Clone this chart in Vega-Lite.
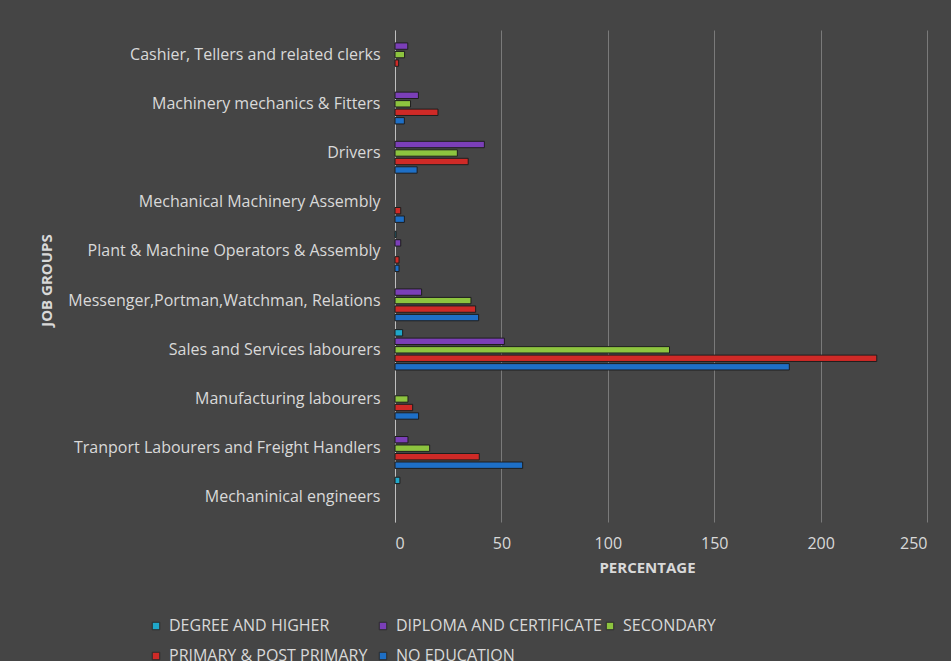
{
  "$schema": "https://vega.github.io/schema/vega-lite/v6.json",
  "width": 532,
  "height": 492,
  "autosize": {"type": "none"},
  "padding": {"left": 395, "top": 30, "right": 24, "bottom": 139},
  "background": "#454545",
  "config": {"view": {"stroke": null}, "font": "Open Sans"},
  "data": {
    "values": [
      {"group": "Cashier, Tellers and related clerks", "level": "DIPLOMA AND CERTIFICATE", "value": 6.0},
      {"group": "Cashier, Tellers and related clerks", "level": "SECONDARY", "value": 4.5},
      {"group": "Cashier, Tellers and related clerks", "level": "PRIMARY & POST PRIMARY", "value": 1.7},
      {"group": "Machinery mechanics & Fitters", "level": "DIPLOMA AND CERTIFICATE", "value": 11.0},
      {"group": "Machinery mechanics & Fitters", "level": "SECONDARY", "value": 7.3},
      {"group": "Machinery mechanics & Fitters", "level": "PRIMARY & POST PRIMARY", "value": 20.2},
      {"group": "Machinery mechanics & Fitters", "level": "NO EDUCATION", "value": 4.4},
      {"group": "Drivers", "level": "DIPLOMA AND CERTIFICATE", "value": 42.0},
      {"group": "Drivers", "level": "SECONDARY", "value": 29.3},
      {"group": "Drivers", "level": "PRIMARY & POST PRIMARY", "value": 34.4},
      {"group": "Drivers", "level": "NO EDUCATION", "value": 10.4},
      {"group": "Mechanical Machinery Assembly", "level": "PRIMARY & POST PRIMARY", "value": 2.7},
      {"group": "Mechanical Machinery Assembly", "level": "NO EDUCATION", "value": 4.4},
      {"group": "Plant & Machine Operators & Assembly", "level": "DEGREE AND HIGHER", "value": 0.5},
      {"group": "Plant & Machine Operators & Assembly", "level": "DIPLOMA AND CERTIFICATE", "value": 2.7},
      {"group": "Plant & Machine Operators & Assembly", "level": "PRIMARY & POST PRIMARY", "value": 1.9},
      {"group": "Plant & Machine Operators & Assembly", "level": "NO EDUCATION", "value": 1.9},
      {"group": "Messenger,Portman,Watchman, Relations", "level": "DIPLOMA AND CERTIFICATE", "value": 12.5},
      {"group": "Messenger,Portman,Watchman, Relations", "level": "SECONDARY", "value": 35.7},
      {"group": "Messenger,Portman,Watchman, Relations", "level": "PRIMARY & POST PRIMARY", "value": 37.9},
      {"group": "Messenger,Portman,Watchman, Relations", "level": "NO EDUCATION", "value": 39.3},
      {"group": "Sales and Services labourers", "level": "DEGREE AND HIGHER", "value": 3.6},
      {"group": "Sales and Services labourers", "level": "DIPLOMA AND CERTIFICATE", "value": 51.4},
      {"group": "Sales and Services labourers", "level": "SECONDARY", "value": 129.0},
      {"group": "Sales and Services labourers", "level": "PRIMARY & POST PRIMARY", "value": 226.4},
      {"group": "Sales and Services labourers", "level": "NO EDUCATION", "value": 185.3},
      {"group": "Manufacturing labourers", "level": "SECONDARY", "value": 6.1},
      {"group": "Manufacturing labourers", "level": "PRIMARY & POST PRIMARY", "value": 8.3},
      {"group": "Manufacturing labourers", "level": "NO EDUCATION", "value": 11.1},
      {"group": "Tranport Labourers and Freight Handlers", "level": "DIPLOMA AND CERTIFICATE", "value": 6.1},
      {"group": "Tranport Labourers and Freight Handlers", "level": "SECONDARY", "value": 16.3},
      {"group": "Tranport Labourers and Freight Handlers", "level": "PRIMARY & POST PRIMARY", "value": 39.6},
      {"group": "Tranport Labourers and Freight Handlers", "level": "NO EDUCATION", "value": 60.0},
      {"group": "Mechaninical engineers", "level": "DEGREE AND HIGHER", "value": 2.3}
    ]
  },
  "mark": {"type": "bar", "stroke": "#1e1e1e", "strokeWidth": 1},
  "encoding": {
    "y": {
      "field": "group",
      "type": "nominal",
      "sort": [
        "Cashier, Tellers and related clerks",
        "Machinery mechanics & Fitters",
        "Drivers",
        "Mechanical Machinery Assembly",
        "Plant & Machine Operators & Assembly",
        "Messenger,Portman,Watchman, Relations",
        "Sales and Services labourers",
        "Manufacturing labourers",
        "Tranport Labourers and Freight Handlers",
        "Mechaninical engineers"
      ],
      "scale": {"paddingInner": 0.18, "paddingOuter": 0.09},
      "axis": {
        "title": "JOB GROUPS",
        "titleColor": "#d9d9d9",
        "titleFontSize": 15,
        "titleFontWeight": "bold",
        "titleX": -349,
        "titleY": 250,
        "titleAngle": -90,
        "titleBaseline": "middle",
        "titleAlign": "center",
        "labelColor": "#d9d9d9",
        "labelFontSize": 16,
        "labelPadding": 15,
        "labelLimit": 400,
        "ticks": false,
        "domain": true,
        "domainColor": "#bfbfbf",
        "domainWidth": 1
      }
    },
    "yOffset": {
      "field": "level",
      "sort": ["DEGREE AND HIGHER", "DIPLOMA AND CERTIFICATE", "SECONDARY", "PRIMARY & POST PRIMARY", "NO EDUCATION"],
      "scale": {"paddingInner": 0.25}
    },
    "x": {
      "field": "value",
      "type": "quantitative",
      "scale": {"domain": [0, 250]},
      "axis": {
        "values": [0, 50, 100, 150, 200, 250],
        "title": "PERCENTAGE",
        "titleColor": "#d9d9d9",
        "titleFontSize": 15,
        "titleFontWeight": "bold",
        "titlePadding": 9,
        "titleX": 252,
        "labelColor": "#d9d9d9",
        "labelFontSize": 16,
        "labelPadding": 13,
        "grid": true,
        "gridColor": "#7a7a7a",
        "gridWidth": 1,
        "domain": false,
        "ticks": false
      }
    },
    "color": {
      "field": "level",
      "type": "nominal",
      "scale": {
        "domain": ["DEGREE AND HIGHER", "DIPLOMA AND CERTIFICATE", "SECONDARY", "PRIMARY & POST PRIMARY", "NO EDUCATION"],
        "range": ["#1fa7c9", "#7b3fb8", "#8dc43f", "#cf2a27", "#1e6fc6"]
      },
      "legend": {
        "title": null,
        "orient": "none",
        "legendX": -247,
        "legendY": 588,
        "direction": "horizontal",
        "columns": 3,
        "gridAlign": "all",
        "columnPadding": -2,
        "rowPadding": 14,
        "padding": 0,
        "symbolType": "square",
        "symbolSize": 56,
        "symbolStrokeColor": "#2a2a2a",
        "symbolStrokeWidth": 1,
        "symbolOpacity": 1,
        "labelColor": "#d9d9d9",
        "labelFontSize": 16,
        "labelOffset": 5,
        "labelLimit": 400
      }
    }
  }
}
